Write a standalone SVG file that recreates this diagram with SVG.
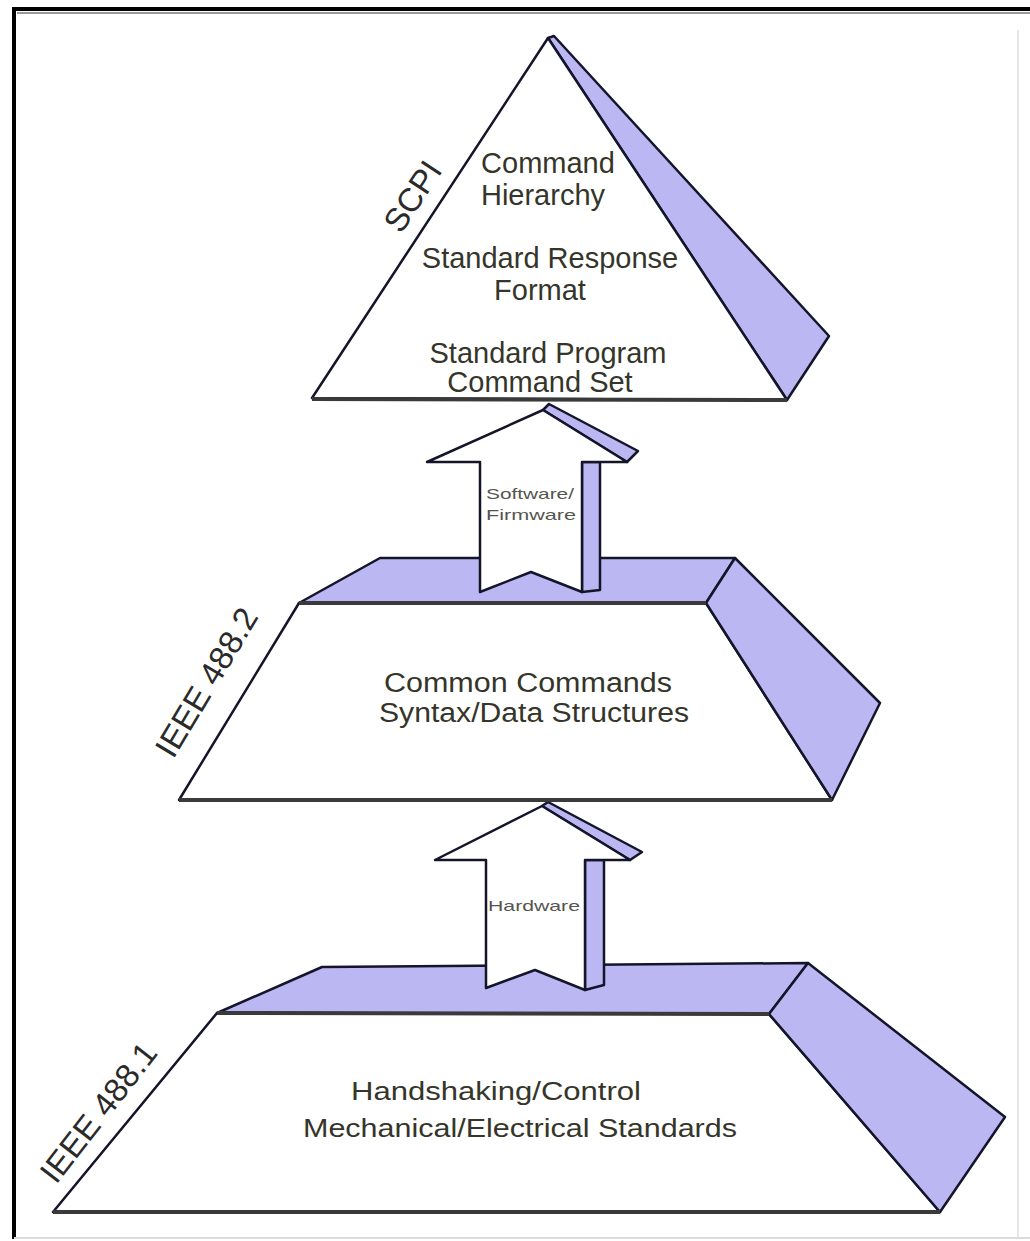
<svg xmlns="http://www.w3.org/2000/svg" width="1030" height="1241" viewBox="0 0 1030 1241">
  <style>
    .face { fill: #ffffff; stroke: #14142a; stroke-width: 2.5; stroke-linejoin: round; }
    .shade { fill: #bbb7f3; stroke: #14142a; stroke-width: 2.5; stroke-linejoin: round; }
    .base { fill: none; stroke: #3a3a3a; stroke-width: 4; }
    .lbl { font-family: "Liberation Sans", Arial, sans-serif; fill: #35352a; text-anchor: middle; }
    .tag { font-family: "Liberation Sans", Arial, sans-serif; fill: #2a2a2a; text-anchor: middle; font-size: 33px; }
    .small { font-family: "Liberation Sans", Arial, sans-serif; fill: #555550; font-size: 15px; }
  </style>

  <rect x="0" y="0" width="1030" height="1241" fill="#ffffff"/>

  <!-- frame -->
  <g id="frame">
    <line x1="14" y1="9" x2="14" y2="1239" stroke="#000" stroke-width="4"/>
    <line x1="12" y1="9" x2="1030" y2="9" stroke="#000" stroke-width="4"/>
    <line x1="17" y1="13" x2="1030" y2="13" stroke="#9a9a9a" stroke-width="2"/>
    <line x1="1018" y1="30" x2="1018" y2="1238" stroke="#e6e6e6" stroke-width="2"/>
    <line x1="14" y1="1238" x2="1030" y2="1238" stroke="#dcdcdc" stroke-width="2"/>
  </g>

  <!-- IEEE 488.1 layer -->
  <g id="layer-ieee4881">
    <polygon class="face" points="53,1212 217,1013 769,1014 940,1212"/>
    <polygon class="shade" points="217,1013 322,967 808,963 769,1014"/>
    <polygon class="shade" points="808,963 1005,1117 940,1212 769,1014"/>
    <line class="base" x1="217" y1="1013" x2="769" y2="1014"/>
    <line class="base" x1="53" y1="1212" x2="940" y2="1212"/>
    <text class="lbl" font-size="26" x="496" y="1100" textLength="290" lengthAdjust="spacingAndGlyphs">Handshaking/Control</text>
    <text class="lbl" font-size="26" x="520" y="1137" textLength="434" lengthAdjust="spacingAndGlyphs">Mechanical/Electrical Standards</text>
    <text class="tag" transform="translate(98,1112) rotate(-52)" y="12">IEEE 488.1</text>
  </g>

  <!-- connectors between layers -->
  <g id="connectors">
    <g id="arrow-hardware">
      <polygon class="shade" points="585,860 604,860 604,985 585,990"/>
      <polygon class="shade" points="542,806 548,802 642,852 630,860"/>
      <polygon class="face" points="542,806 630,860 585,860 585,990 535,970 486,988 486,860 435,860"/>
      <text class="small" x="488" y="911" textLength="92" lengthAdjust="spacingAndGlyphs">Hardware</text>
    </g>
  </g>

  <!-- IEEE 488.2 layer -->
  <g id="layer-ieee4882">
    <polygon class="face" points="179,800 299,603 706,603 832,800"/>
    <polygon class="shade" points="299,603 380,558 735,558 706,603"/>
    <polygon class="shade" points="735,558 880,703 832,800 706,603"/>
    <line class="base" x1="299" y1="603" x2="706" y2="603"/>
    <line class="base" x1="179" y1="800" x2="832" y2="800"/>
    <text class="lbl" font-size="27" x="528" y="692" textLength="288" lengthAdjust="spacingAndGlyphs">Common Commands</text>
    <text class="lbl" font-size="27" x="534" y="722" textLength="310" lengthAdjust="spacingAndGlyphs">Syntax/Data Structures</text>
    <text class="tag" transform="translate(206,682) rotate(-59)" y="12">IEEE 488.2</text>
  </g>

  <g id="connectors-upper">
    <g id="arrow-software">
      <polygon class="shade" points="582,462 600,462 600,590 582,592"/>
      <polygon class="shade" points="543,410 549,404 638,451 627,462"/>
      <polygon class="face" points="543,410 627,462 582,462 582,592 531,572 480,592 480,462 427,462"/>
      <text class="small" x="486" y="499" textLength="88" lengthAdjust="spacingAndGlyphs">Software/</text>
      <text class="small" x="486" y="520" textLength="90" lengthAdjust="spacingAndGlyphs">Firmware</text>
    </g>
  </g>

  <!-- SCPI layer -->
  <g id="layer-scpi">
    <polygon class="shade" points="548,38 554,36 829,336 787,400"/>
    <polygon class="face" points="548,38 312,398 787,400"/>
    <line class="base" x1="312" y1="399" x2="787" y2="400"/>
    <text class="lbl" font-size="29" x="548" y="173">Command</text>
    <text class="lbl" font-size="29" x="543" y="205">Hierarchy</text>
    <text class="lbl" font-size="29" x="550" y="268">Standard Response</text>
    <text class="lbl" font-size="29" x="540" y="300">Format</text>
    <text class="lbl" font-size="29" x="548" y="363">Standard Program</text>
    <text class="lbl" font-size="29" x="540" y="392">Command Set</text>
    <text class="tag" font-size="35" transform="translate(412,196) rotate(-56.7)" y="12">SCPI</text>
  </g>
</svg>
